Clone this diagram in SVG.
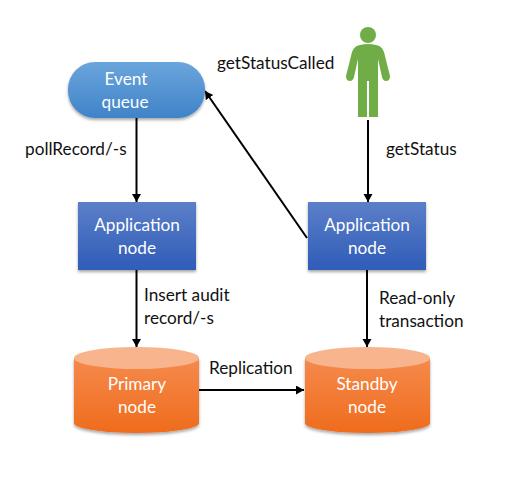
<svg xmlns="http://www.w3.org/2000/svg" width="514" height="478" viewBox="0 0 514 478">
<style>
text{font-family:Lato,"Open Sans","Liberation Sans",sans-serif;font-size:17.200px}
.l{fill:#fff;text-anchor:middle}
.t{fill:#111}
.c{stroke:#000;stroke-width:2;fill:none;marker-end:url(#a)}
</style>
<defs>
<marker id="a" markerUnits="userSpaceOnUse" markerWidth="10" markerHeight="10" refX="8" refY="4.500" orient="auto"><path d="M0 0L8 4.500L0 9Z" fill="#000"/></marker>
<linearGradient id="q" x1="0" y1="0" x2="0" y2="1"><stop offset="0" stop-color="#6ba5dc"/><stop offset="1" stop-color="#3f83c8"/></linearGradient>
<linearGradient id="b" x1="0" y1="0" x2="0" y2="1"><stop offset="0" stop-color="#5c7fc8"/><stop offset="1" stop-color="#2f5cb8"/></linearGradient>
<linearGradient id="o" x1="0" y1="0" x2="0" y2="1"><stop offset="0" stop-color="#f58a4c"/><stop offset="1" stop-color="#ef6c1c"/></linearGradient>
<filter id="s" x="-10%" y="-10%" width="120%" height="125%"><feDropShadow dx="0" dy="2" stdDeviation="1.500" flood-color="#000" flood-opacity=".35"/></filter>
</defs>
<g id="connectors">
<path class="c" d="M136.500 118V202"/>
<path class="c" d="M136.500 270V347"/>
<path class="c" d="M368 120V202"/>
<path class="c" d="M367 270V347"/>
<path class="c" d="M199 390H304"/>
<path class="c" d="M307 238L205 91"/>
</g>
<g id="event-queue"><rect x="68" y="62" width="137" height="56" rx="27" fill="url(#q)" filter="url(#s)"/><text class="l" x="126" y="85">Event</text><text class="l" x="125" y="108">queue</text></g>
<g id="app-left"><rect x="78" y="202" width="118" height="68" fill="url(#b)" filter="url(#s)"/><text class="l" x="137" y="231">Application</text><text class="l" x="137" y="254">node</text></g>
<g id="app-right"><rect x="308" y="202" width="118" height="68" fill="url(#b)" filter="url(#s)"/><text class="l" x="367" y="231">Application</text><text class="l" x="367" y="254">node</text></g>
<g id="primary"><path d="M74 358V423A62.500 10 0 0 0 199 423V358Z" fill="url(#o)" filter="url(#s)"/><ellipse cx="136.500" cy="358" rx="62.500" ry="11" fill="#f8b48d"/><text class="l" x="137" y="390">Primary</text><text class="l" x="137" y="413">node</text></g>
<g id="standby"><path d="M305 358V423A62.500 10 0 0 0 430 423V358Z" fill="url(#o)" filter="url(#s)"/><ellipse cx="367.500" cy="358" rx="62.500" ry="11" fill="#f8b48d"/><text class="l" x="367" y="390">Standby</text><text class="l" x="367" y="413">node</text></g>
<g id="person" fill="#70ad47"><circle cx="368" cy="35" r="8"/><path d="M360 45Q368 43 376 45Q382 46 384 52L390 76Q390 81 386 81Q383 81 382 77L378 59V117H369V81H367V117H358V59L354 77Q353 81 350 81Q346 81 346 76L352 52Q354 46 360 45Z"/></g>
<g id="labels">
<text class="t" x="217" y="69">getStatusCalled</text>
<text class="t" x="25" y="155">pollRecord/-s</text>
<text class="t" x="386" y="155">getStatus</text>
<text class="t" x="144" y="301">Insert audit</text>
<text class="t" x="144" y="324">record/-s</text>
<text class="t" x="379" y="304">Read-only</text>
<text class="t" x="379" y="327">transaction</text>
<text class="t" x="209" y="374">Replication</text>
</g>
</svg>
